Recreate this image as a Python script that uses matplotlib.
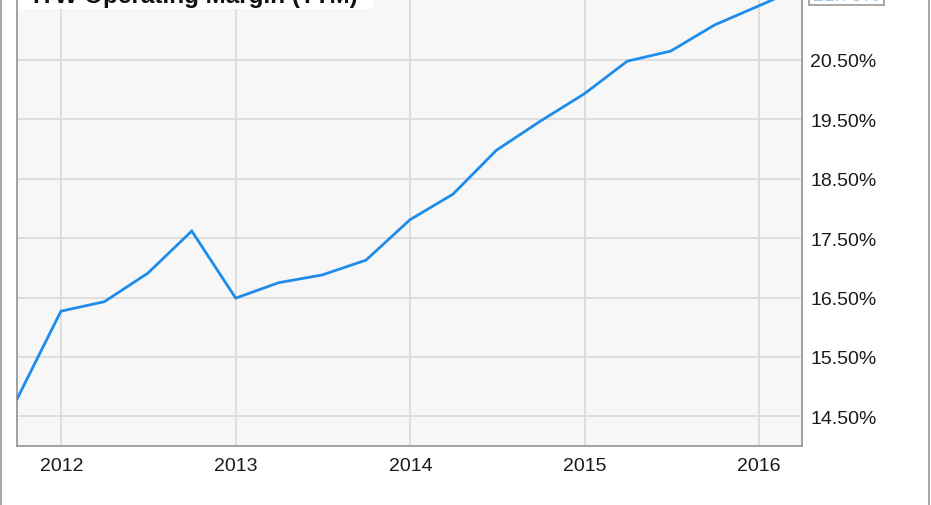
import matplotlib
matplotlib.use("Agg")
import matplotlib.pyplot as plt
from matplotlib.patches import Rectangle
import pandas as pd

plt.rcParams['font.family'] = ['Liberation Sans', 'DejaVu Sans']

# ---- data ----
quarter_ends = ["2011-09-30", "2011-12-31", "2012-03-31", "2012-06-30", "2012-09-30",
                "2012-12-31", "2013-03-31", "2013-06-30", "2013-09-30", "2013-12-31",
                "2014-03-31", "2014-06-30", "2014-09-30", "2014-12-31", "2015-03-31",
                "2015-06-30", "2015-09-30", "2015-12-31", "2016-03-31"]
operating_margin = [14.79, 16.27, 16.43, 16.91, 17.62,
                    16.49, 16.75, 16.88, 17.13, 17.81,
                    18.24, 18.98, 19.47, 19.93, 20.48,
                    20.65, 21.09, 21.41, 21.73]
y_ticks = [14.5, 15.5, 16.5, 17.5, 18.5, 19.5, 20.5]
x_tick_years = ["2012", "2013", "2014", "2015", "2016"]
title = "ITW Operating Margin (TTM)"

dates = pd.to_datetime(quarter_ends)

W, H = 931, 506
fig = plt.figure(figsize=(W / 100, H / 100), dpi=100)
fig.patch.set_facecolor("white")
ax = fig.add_axes([17/W, 59/H, 785/W, 447/H])
ax.set_facecolor("#f7f7f7")

ax.plot(dates, operating_margin, color="#1f8ceb", linewidth=2.0, solid_joinstyle="miter", zorder=3)

ax.set_xlim(pd.Timestamp("2011-09-30"), pd.Timestamp("2016-03-31"))
ax.set_ylim(14.0, 21.527)

ax.set_xticks(pd.to_datetime([y + "-01-01" for y in x_tick_years]))
ax.set_xticklabels(x_tick_years)
ax.set_yticks(y_ticks)
ax.set_yticklabels([f"{v:.2f}%" for v in y_ticks])

ax.yaxis.tick_right()
ax.tick_params(axis="both", length=0, labelsize=14, colors="#1a1a1a")
ax.tick_params(axis="y", pad=6)
ax.tick_params(axis="x", pad=8)

ax.grid(True, color="#dcdcdc", linewidth=1.3, zorder=0)
ax.set_axisbelow(True)

ax.spines["top"].set_visible(False)
for s in ["left", "right", "bottom"]:
    ax.spines[s].set_color("#9a9a9a")
    ax.spines[s].set_linewidth(1.3)

# white band behind the (cropped) title
fig.add_artist(Rectangle((18/W, 1 - 10/H), (373 - 18)/W, 12/H, transform=fig.transFigure,
                         facecolor="white", edgecolor="none", zorder=4))
fig.text(33/W, 1 - 3/H, title, fontsize=17.5, fontweight="bold", color="#111111",
         ha="left", va="baseline", zorder=5)

# cropped last-value label box at top right
fig.add_artist(Rectangle((809/W, 1 - 6/H), (884 - 809)/W, 12/H, transform=fig.transFigure,
                         facecolor="white", edgecolor="#9a9a9a", linewidth=1.2, zorder=4))
fig.text(846/W, 1 - 1/H, f"{operating_margin[-1]:.2f}%", fontsize=14, color="#9cc8f0",
         ha="center", va="baseline", zorder=5)

# outer frame lines
fig.add_artist(Rectangle((1/W, -0.01), 928/W, 1.02, transform=fig.transFigure,
                         fill=False, edgecolor="#9a9a9a", linewidth=1.2))

fig.savefig("out.png", dpi=100)
